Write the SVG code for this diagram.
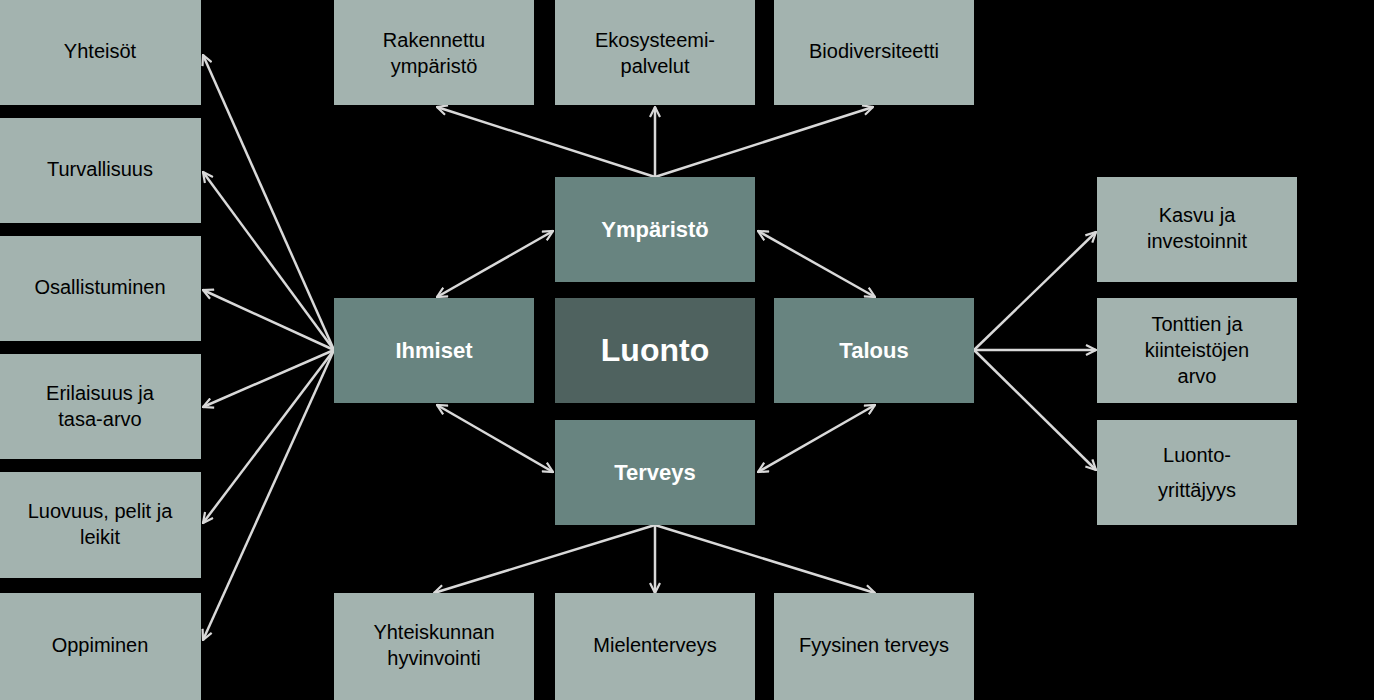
<svg xmlns="http://www.w3.org/2000/svg" width="1374" height="700" viewBox="0 0 1374 700">
<style>
.l{fill:#a3b3af}.m{fill:#688480}.c{fill:#4f625f}
text{font-family:"Liberation Sans",Arial,sans-serif;text-anchor:middle}
.t{font-size:20px;fill:#000}
.w{font-size:22px;fill:#fff;font-weight:bold}
#connectors line{stroke:#d9d9d9;stroke-width:2.5;fill:none}
</style>
<defs>
<marker id="a" viewBox="0 0 12 12" refX="11" refY="6" markerWidth="12" markerHeight="12" markerUnits="userSpaceOnUse" orient="auto-start-reverse">
<polyline points="1,1 11,6 1,11" fill="none" stroke="#d9d9d9" stroke-width="2.2"/>
</marker>
</defs>
<rect width="1374" height="700" fill="#000"/>
<g id="connectors">
<line x1="334" y1="350" x2="203" y2="55" marker-end="url(#a)"/>
<line x1="334" y1="350" x2="203" y2="172" marker-end="url(#a)"/>
<line x1="334" y1="350" x2="203" y2="290" marker-end="url(#a)"/>
<line x1="334" y1="350" x2="203" y2="407" marker-end="url(#a)"/>
<line x1="334" y1="350" x2="203" y2="523" marker-end="url(#a)"/>
<line x1="334" y1="350" x2="203" y2="640" marker-end="url(#a)"/>
<line x1="655" y1="177" x2="437" y2="107" marker-end="url(#a)"/>
<line x1="655" y1="177" x2="655" y2="107" marker-end="url(#a)"/>
<line x1="655" y1="177" x2="873" y2="107" marker-end="url(#a)"/>
<line x1="437" y1="297" x2="553" y2="231" marker-start="url(#a)" marker-end="url(#a)"/>
<line x1="758" y1="231" x2="875" y2="297" marker-start="url(#a)" marker-end="url(#a)"/>
<line x1="437" y1="405" x2="553" y2="472" marker-start="url(#a)" marker-end="url(#a)"/>
<line x1="758" y1="472" x2="875" y2="405" marker-start="url(#a)" marker-end="url(#a)"/>
<line x1="974" y1="350" x2="1096" y2="232" marker-end="url(#a)"/>
<line x1="974" y1="350" x2="1096" y2="350" marker-end="url(#a)"/>
<line x1="974" y1="350" x2="1096" y2="470" marker-end="url(#a)"/>
<line x1="655" y1="525" x2="434" y2="593" marker-end="url(#a)"/>
<line x1="655" y1="525" x2="655" y2="593" marker-end="url(#a)"/>
<line x1="655" y1="525" x2="875" y2="593" marker-end="url(#a)"/>
</g>
<g id="n1"><rect class="l" x="0" y="0" width="201" height="105"/><text class="t" x="100" y="58">Yhteisöt</text></g>
<g id="n2"><rect class="l" x="0" y="118" width="201" height="105"/><text class="t" x="100" y="176">Turvallisuus</text></g>
<g id="n3"><rect class="l" x="0" y="236" width="201" height="105"/><text class="t" x="100" y="294">Osallistuminen</text></g>
<g id="n4"><rect class="l" x="0" y="354" width="201" height="105"/><text class="t" x="100" y="400">Erilaisuus ja</text><text class="t" x="100" y="426">tasa-arvo</text></g>
<g id="n5"><rect class="l" x="0" y="472" width="201" height="106"/><text class="t" x="100" y="518">Luovuus, pelit ja</text><text class="t" x="100" y="544">leikit</text></g>
<g id="n6"><rect class="l" x="0" y="593" width="201" height="107"/><text class="t" x="100" y="652">Oppiminen</text></g>
<g id="n7"><rect class="l" x="334" y="0" width="200" height="105"/><text class="t" x="434" y="47">Rakennettu</text><text class="t" x="434" y="73">ympäristö</text></g>
<g id="n8"><rect class="l" x="555" y="0" width="200" height="105"/><text class="t" x="655" y="47">Ekosysteemi-</text><text class="t" x="655" y="73">palvelut</text></g>
<g id="n9"><rect class="l" x="774" y="0" width="200" height="105"/><text class="t" x="874" y="58">Biodiversiteetti</text></g>
<g id="n10"><rect class="m" x="555" y="177" width="200" height="105"/><text class="w" x="655" y="237">Ympäristö</text></g>
<g id="n11"><rect class="m" x="334" y="298" width="200" height="105"/><text class="w" x="434" y="358">Ihmiset</text></g>
<g id="n12"><rect class="c" x="555" y="298" width="200" height="105"/><text x="655" y="361" style="font-size:32px;font-weight:bold;fill:#fff">Luonto</text></g>
<g id="n13"><rect class="m" x="774" y="298" width="200" height="105"/><text class="w" x="874" y="358">Talous</text></g>
<g id="n14"><rect class="m" x="555" y="420" width="200" height="105"/><text class="w" x="655" y="480">Terveys</text></g>
<g id="n15"><rect class="l" x="1097" y="177" width="200" height="105"/><text class="t" x="1197" y="222">Kasvu ja</text><text class="t" x="1197" y="248">investoinnit</text></g>
<g id="n16"><rect class="l" x="1097" y="298" width="200" height="105"/><text class="t" x="1197" y="331">Tonttien ja</text><text class="t" x="1197" y="357">kiinteistöjen</text><text class="t" x="1197" y="383">arvo</text></g>
<g id="n17"><rect class="l" x="1097" y="420" width="200" height="105"/><text class="t" x="1197" y="462">Luonto-</text><text class="t" x="1197" y="497">yrittäjyys</text></g>
<g id="n18"><rect class="l" x="334" y="593" width="200" height="107"/><text class="t" x="434" y="639">Yhteiskunnan</text><text class="t" x="434" y="665">hyvinvointi</text></g>
<g id="n19"><rect class="l" x="555" y="593" width="200" height="107"/><text class="t" x="655" y="652">Mielenterveys</text></g>
<g id="n20"><rect class="l" x="774" y="593" width="200" height="107"/><text class="t" x="874" y="652">Fyysinen terveys</text></g>
</svg>
